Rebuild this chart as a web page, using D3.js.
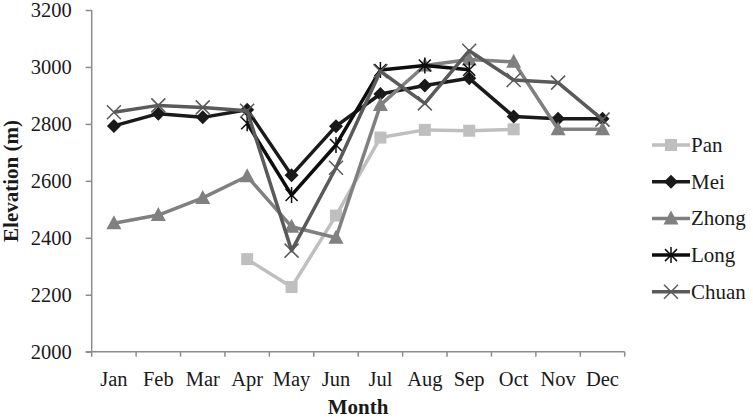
<!DOCTYPE html>
<html>
<head>
<meta charset="UTF-8">
<title>Elevation by month</title>
<style>
  body { margin: 0; background: #fff; }
  svg text { font-family: "Liberation Serif", "Times New Roman", serif !important; fill: #1a1a1a; }
  .axis path, .axis line { stroke: #8c8c8c; stroke-width: 1.5px; }
  .axis text { font-size: 20.5px; }
  .title { font-size: 21px; font-weight: bold; }
</style>
<script src="https://d3js.org/d3.v7.min.js"></script>
</head>
<body>
<div id="chart"></div>
<script>
const months = ["Jan","Feb","Mar","Apr","May","Jun","Jul","Aug","Sep","Oct","Nov","Dec"];
const yTicks = [2000,2200,2400,2600,2800,3000,3200];

// values, null = no data
const pan   = [null, null, null, 2325, 2227, 2478, 2752, 2779, 2776, 2781, null, null];
const mei   = [2793, 2836, 2823, 2850, 2620, 2792, 2905, 2935, 2960, 2826, 2818, 2818];
const zhong = [2451, 2480, 2540, 2616, 2439, 2400, 2866, 3005, 3026, 3018, 2781, 2781];
const long  = [null, null, null, 2802, 2550, 2726, 2989, 3005, 2990, null, null, null];
const chuan = [2841, 2865, 2858, 2846, 2355, 2646, 2985, 2872, 3057, 2954, 2945, 2815];

const series = [
  { name: "Pan",   values: pan,   color: "#bfbfbf", marker: "square" },
  { name: "Mei",   values: mei,   color: "#1a1a1a", marker: "diamond" },
  { name: "Zhong", values: zhong, color: "#808080", marker: "triangle" },
  { name: "Long",  values: long,  color: "#0d0d0d", marker: "star" },
  { name: "Chuan", values: chuan, color: "#5a5a5a", marker: "cross" }
];

const W = 753, H = 419;
const plotL = 91.7, plotR = 624.7, plotT = 10, plotB = 351.7;

const svg = d3.select("#chart").append("svg")
  .attr("width", W)
  .attr("height", H);

const x = d3.scaleBand().domain(months).range([plotL, plotR]).padding(0);
const y = d3.scaleLinear().domain([2000, 3200]).range([plotB, plotT]);
const cx = m => x(m) + x.bandwidth() / 2;

// y axis
const yAxis = svg.append("g")
  .attr("class", "axis")
  .attr("transform", "translate(" + plotL + ",0)")
  .call(d3.axisLeft(y).tickValues(yTicks).tickSize(6).tickPadding(14).tickFormat(d3.format("d")));
yAxis.attr("font-family", null).attr("font-size", null);
yAxis.select(".domain").remove();
yAxis.append("line").attr("x1", 0).attr("x2", 0).attr("y1", plotT).attr("y2", plotB);

// x axis: ticks on band edges, labels on centers
const xAxis = svg.append("g").attr("class", "axis");
xAxis.append("line")
  .attr("x1", plotL - 6).attr("x2", plotR)
  .attr("y1", plotB).attr("y2", plotB);
xAxis.selectAll(".tk")
  .data(months.concat(["end"]))
  .enter().append("line")
  .attr("class", "tk")
  .attr("x1", (d, i) => i < months.length ? x(d) : plotR)
  .attr("x2", (d, i) => i < months.length ? x(d) : plotR)
  .attr("y1", plotB).attr("y2", plotB + 5);
xAxis.selectAll("text")
  .data(months)
  .enter().append("text")
  .attr("x", d => cx(d))
  .attr("y", 386)
  .attr("text-anchor", "middle")
  .text(d => d);

// axis titles
svg.append("text")
  .attr("class", "title")
  .attr("x", 358).attr("y", 414)
  .attr("text-anchor", "middle")
  .text("Month");
svg.append("text")
  .attr("class", "title")
  .attr("transform", "translate(18,181) rotate(-90)")
  .attr("text-anchor", "middle")
  .text("Elevation (m)");

function drawMarker(g, type, color) {
  if (type === "square") {
    g.append("rect").attr("x", -6).attr("y", -6).attr("width", 12).attr("height", 12).attr("fill", color);
  } else if (type === "diamond") {
    g.append("path").attr("d", "M0,-7L7,0L0,7L-7,0Z").attr("fill", color);
  } else if (type === "triangle") {
    g.append("path").attr("d", "M0,-8L7.5,6L-7.5,6Z").attr("fill", color);
  } else if (type === "star") {
    g.append("path").attr("d", "M-6,-6L6,6M-6,6L6,-6M0,-8L0,8")
      .attr("stroke", color).attr("stroke-width", 1.5).attr("fill", "none");
  } else if (type === "cross") {
    g.append("path").attr("d", "M-7,-7L7,7M-7,7L7,-7")
      .attr("stroke", color).attr("stroke-width", 1.5).attr("fill", "none");
  }
}

const line = d3.line()
  .defined(d => d.v != null)
  .x(d => cx(d.m))
  .y(d => y(d.v));

series.forEach(s => {
  const pts = months.map((m, i) => ({ m: m, v: s.values[i] }));
  svg.append("path")
    .datum(pts)
    .attr("d", line)
    .attr("fill", "none")
    .attr("stroke", s.color)
    .attr("stroke-width", 3.5)
    .attr("stroke-linejoin", "round");
  pts.filter(d => d.v != null).forEach(d => {
    const g = svg.append("g").attr("transform", "translate(" + cx(d.m) + "," + y(d.v) + ")");
    drawMarker(g, s.marker, s.color);
  });
});

// legend
const legend = svg.selectAll(".legend")
  .data(series)
  .enter().append("g")
  .attr("class", "legend")
  .attr("transform", (d, i) => "translate(652," + (145 + i * 36.7) + ")");
legend.append("line")
  .attr("x1", 0).attr("x2", 38)
  .attr("stroke", d => d.color)
  .attr("stroke-width", 3.5);
legend.each(function(d) {
  const g = d3.select(this).append("g").attr("transform", "translate(19,0)");
  drawMarker(g, d.marker, d.color);
});
legend.append("text")
  .attr("x", 39).attr("y", 7)
  .style("font-size", "21px")
  .text(d => d.name);
</script>
</body>
</html>
